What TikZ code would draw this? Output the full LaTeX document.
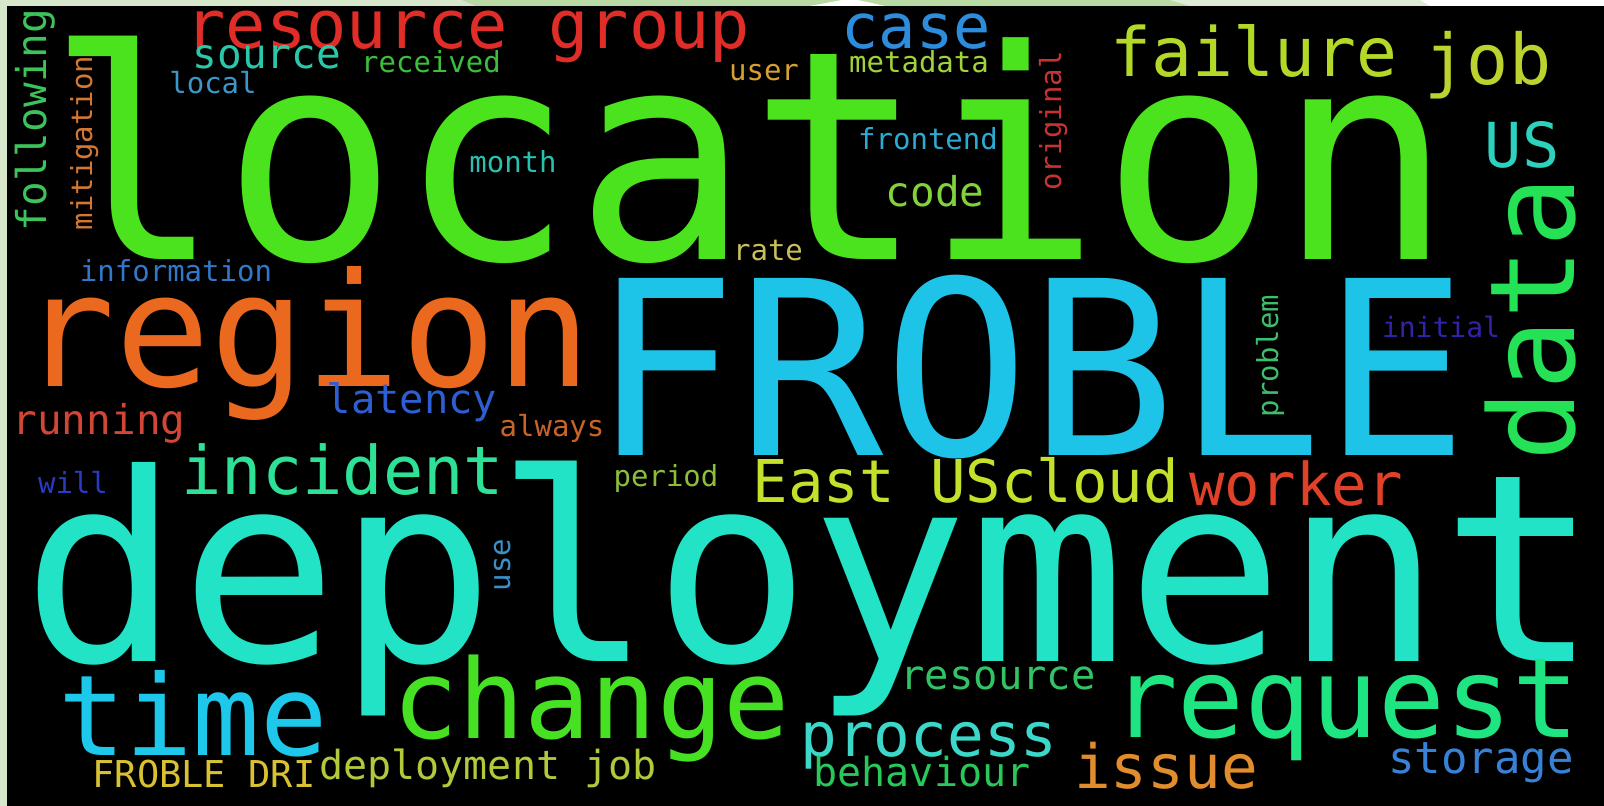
\documentclass[tikz,border=0pt]{standalone}
\usepackage{fontspec}
\newfontfamily\wcfont{DejaVu Sans Mono}
% palette
\definecolor{frameBg}{HTML}{D6E7CB}
\definecolor{frameDark}{HTML}{B9D9A5}
\definecolor{frameLight}{HTML}{DDECD4}
\definecolor{cLocation}{HTML}{4AE31E}
\definecolor{cFroble}{HTML}{1EC3E8}
\definecolor{cDeploy}{HTML}{22E3C6}
\definecolor{cRegion}{HTML}{EB691E}
\definecolor{cData}{HTML}{24E155}
\definecolor{cRequest}{HTML}{1EE482}
\definecolor{cChange}{HTML}{46E123}
\definecolor{cTime}{HTML}{1EC8EB}
\definecolor{cIncident}{HTML}{2DE196}
\definecolor{cResGroup}{HTML}{E12D28}
\definecolor{cFailure}{HTML}{B4D828}
\definecolor{cJob}{HTML}{BCD22E}
\definecolor{cCase}{HTML}{2D8CDC}
\definecolor{cUS}{HTML}{2DD2BE}
\definecolor{cSource}{HTML}{2AC8AA}
\definecolor{cCode}{HTML}{82D23C}
\definecolor{cEast}{HTML}{C4E02A}
\definecolor{cWorker}{HTML}{E14128}
\definecolor{cProcess}{HTML}{3CD7C8}
\definecolor{cIssue}{HTML}{E18C2D}
\definecolor{cStorage}{HTML}{3782D7}
\definecolor{cLatency}{HTML}{2D5FD2}
\definecolor{cRunning}{HTML}{D24637}
\definecolor{cResource}{HTML}{32C364}
\definecolor{cBehaviour}{HTML}{28C85A}
\definecolor{cDepJob}{HTML}{B4C83C}
\definecolor{cDri}{HTML}{D8C232}
\definecolor{cFollowing}{HTML}{3CC35A}
\definecolor{cMitigation}{HTML}{D27832}
\definecolor{cReceived}{HTML}{3CBE3C}
\definecolor{cLocal}{HTML}{3C96C8}
\definecolor{cMonth}{HTML}{2AC0B0}
\definecolor{cInformation}{HTML}{3278C8}
\definecolor{cUser}{HTML}{D7A032}
\definecolor{cMetadata}{HTML}{A0D23C}
\definecolor{cFrontend}{HTML}{2DAAD2}
\definecolor{cOriginal}{HTML}{C83232}
\definecolor{cRate}{HTML}{C8BE5A}
\definecolor{cAlways}{HTML}{C86428}
\definecolor{cWill}{HTML}{283CBE}
\definecolor{cPeriod}{HTML}{8CBE3C}
\definecolor{cProblem}{HTML}{3CBE6E}
\definecolor{cInitial}{HTML}{3223AA}
\definecolor{cUse}{HTML}{3A90C8}
\tikzset{
  wd/.style={anchor=base, inner sep=0pt, outer sep=0pt},
  sz/.style={font=\wcfont\fontsize{#1}{#1}\selectfont},
  vert/.style={wd, rotate=90},
}
\begin{document}
\begin{tikzpicture}[x=1pt, y=-1pt]
\useasboundingbox (0,0) rectangle (1604,806);
% surrounding frame
\fill[frameBg] (0,0) rectangle (1604,806);
\fill[frameDark] (462,0) -- (1170,0) -- (1190,6) -- (476,6) -- cycle;
\fill[frameLight] (1170,0) -- (1420,0) -- (1430,6) -- (1190,6) -- cycle;
\fill[white] (1420,0) -- (1604,0) -- (1604,6) -- (1430,6) -- cycle;
\fill[white] (810,6) -- (842,0) -- (858,0) -- (885,6) -- cycle;
% canvas
\fill[black] (7,6) rectangle (1604,806);

% largest words
\node[wd, sz=292pt, text=cLocation] (location) at (750,259) {location};
\node[wd, sz=243pt, text=cFroble] (froble) at (1030,455) {FROBLE};
\node[wd, sz=262pt, text=cDeploy] (deployment) at (811,661) {deployment};
\node[wd, sz=158pt, text=cRegion] (region) at (306,386) {region};
\node[vert, sz=118pt, text=cData] (data) at (1574,319) {data};
\node[wd, sz=111pt, text=cRequest] (request) at (1345,737) {request};
\node[wd, sz=110pt, text=cChange] (change) at (591,738) {change};
\node[wd, sz=112pt, text=cTime] (time) at (193,755) {time};

% medium words
\node[wd, sz=67pt, text=cIncident] (incident) at (343,494) {incident};
\node[wd, sz=67pt, text=cResGroup] (resgroup) at (468,48) {resource group};
\node[wd, sz=68pt, text=cFailure] (failure) at (1254,76) {failure};
\node[wd, sz=70pt, text=cJob] (job) at (1488,84) {job};
\node[wd, sz=62pt, text=cCase] (case) at (916,48) {case};
\node[wd, sz=62pt, text=cUS] (us) at (1522,167) {US};
\node[wd, sz=59pt, text=cEast] (eastus) at (877,502) {East US};
\node[wd, sz=59pt, text=cEast, anchor=base west] (cloud) at (eastus.base east) {cloud};
\node[wd, sz=59pt, text=cWorker] (worker) at (1296,505) {worker};
\node[wd, sz=61pt, text=cProcess] (process) at (929,756) {process};
\node[wd, sz=61pt, text=cIssue] (issue) at (1166,788) {issue};
\node[wd, sz=44pt, text=cStorage] (storage) at (1481,773) {storage};

% smaller words
\node[wd, sz=41pt, text=cSource] (source) at (267,68) {source};
\node[wd, sz=41pt, text=cCode] (code) at (935,206) {code};
\node[wd, sz=40.5pt, text=cLatency] (latency) at (412,413) {latency};
\node[wd, sz=41pt, text=cRunning] (running) at (99,434) {running};
\node[wd, sz=40.5pt, text=cResource] (resource) at (998,689) {resource};
\node[wd, sz=40pt, text=cBehaviour] (behaviour) at (922,786) {behaviour};
\node[wd, sz=40pt, text=cDepJob] (depjob) at (488,779) {deployment job};
\node[wd, sz=37pt, text=cDri] (dri) at (204,787) {FROBLE DRI};
\node[vert, sz=41pt, text=cFollowing] (following) at (46,120) {following};

% smallest words
\node[vert, sz=29pt, text=cMitigation] (mitigation) at (92,143) {mitigation};
\node[wd, sz=29pt, text=cReceived] (received) at (431,72) {received};
\node[wd, sz=29pt, text=cLocal] (local) at (213,93) {local};
\node[wd, sz=29pt, text=cMonth] (month) at (513,172) {month};
\node[wd, sz=29pt, text=cInformation] (information) at (176,281) {information};
\node[wd, sz=29pt, text=cUser] (user) at (764,80) {user};
\node[wd, sz=29pt, text=cMetadata] (metadata) at (919,72) {metadata};
\node[wd, sz=29pt, text=cFrontend] (frontend) at (928,149) {frontend};
\node[vert, sz=29pt, text=cOriginal] (original) at (1061,121) {original};
\node[wd, sz=29pt, text=cRate] (rate) at (768,260) {rate};
\node[wd, sz=29pt, text=cAlways] (always) at (552,436) {always};
\node[wd, sz=29pt, text=cWill] (will) at (73,493) {will};
\node[wd, sz=29pt, text=cPeriod] (period) at (666,486) {period};
\node[vert, sz=29pt, text=cProblem] (problem) at (1278,356) {problem};
\node[wd, sz=28pt, text=cInitial] (initial) at (1441,337) {initial};
\node[vert, sz=29pt, text=cUse] (use) at (510,565) {use};
\end{tikzpicture}
\end{document}
